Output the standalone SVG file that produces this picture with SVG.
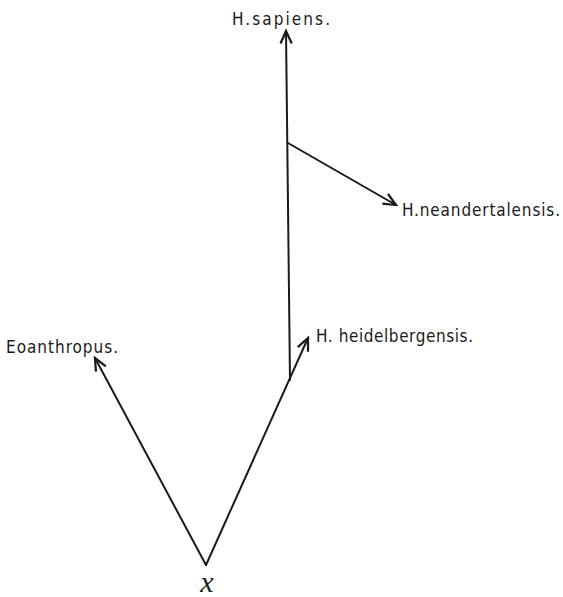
<svg xmlns="http://www.w3.org/2000/svg" width="563" height="597" viewBox="0 0 563 597">
<style>
.ln{stroke:#1a1a1a;stroke-width:2;fill:none;stroke-linecap:round}
.lb{font-family:"DejaVu Sans Condensed","DejaVu Sans",sans-serif;font-size:17px;fill:#1a1a1a}
.x{font-family:"Liberation Serif",serif;font-style:italic;font-size:30px;fill:#1a1a1a}
</style>
<defs>
<marker id="ah" markerUnits="userSpaceOnUse" markerWidth="20" markerHeight="20" refX="0" refY="0" viewBox="-12 -8 14 16" orient="auto">
<path d="M-10,-4.5 L0,0 L-10,4.5" stroke="#1a1a1a" stroke-width="1.8" fill="none" stroke-linejoin="miter"/>
</marker>
</defs>
<rect width="563" height="597" fill="#ffffff"/>
<g id="connectors">
<line class="ln" x1="206" y1="565" x2="95" y2="358" marker-end="url(#ah)"/>
<line class="ln" x1="206" y1="565" x2="308" y2="338" marker-end="url(#ah)"/>
<line class="ln" x1="290" y1="380" x2="286" y2="31" marker-end="url(#ah)"/>
<line class="ln" x1="288" y1="143" x2="396" y2="205" marker-end="url(#ah)"/>
</g>
<g id="sapiens"><text class="lb" x="232" y="25" textLength="98" lengthAdjust="spacing">H.sapiens.</text></g>
<g id="neandertalensis"><text class="lb" x="402" y="216" textLength="158" lengthAdjust="spacing">H.neandertalensis.</text></g>
<g id="heidelbergensis"><text class="lb" x="316" y="342" textLength="157" lengthAdjust="spacing">H. heidelbergensis.</text></g>
<g id="eoanthropus"><text class="lb" x="6" y="353" textLength="112" lengthAdjust="spacing">Eoanthropus.</text></g>
<g id="x"><text class="x" x="207" y="592" text-anchor="middle">x</text></g>
</svg>
